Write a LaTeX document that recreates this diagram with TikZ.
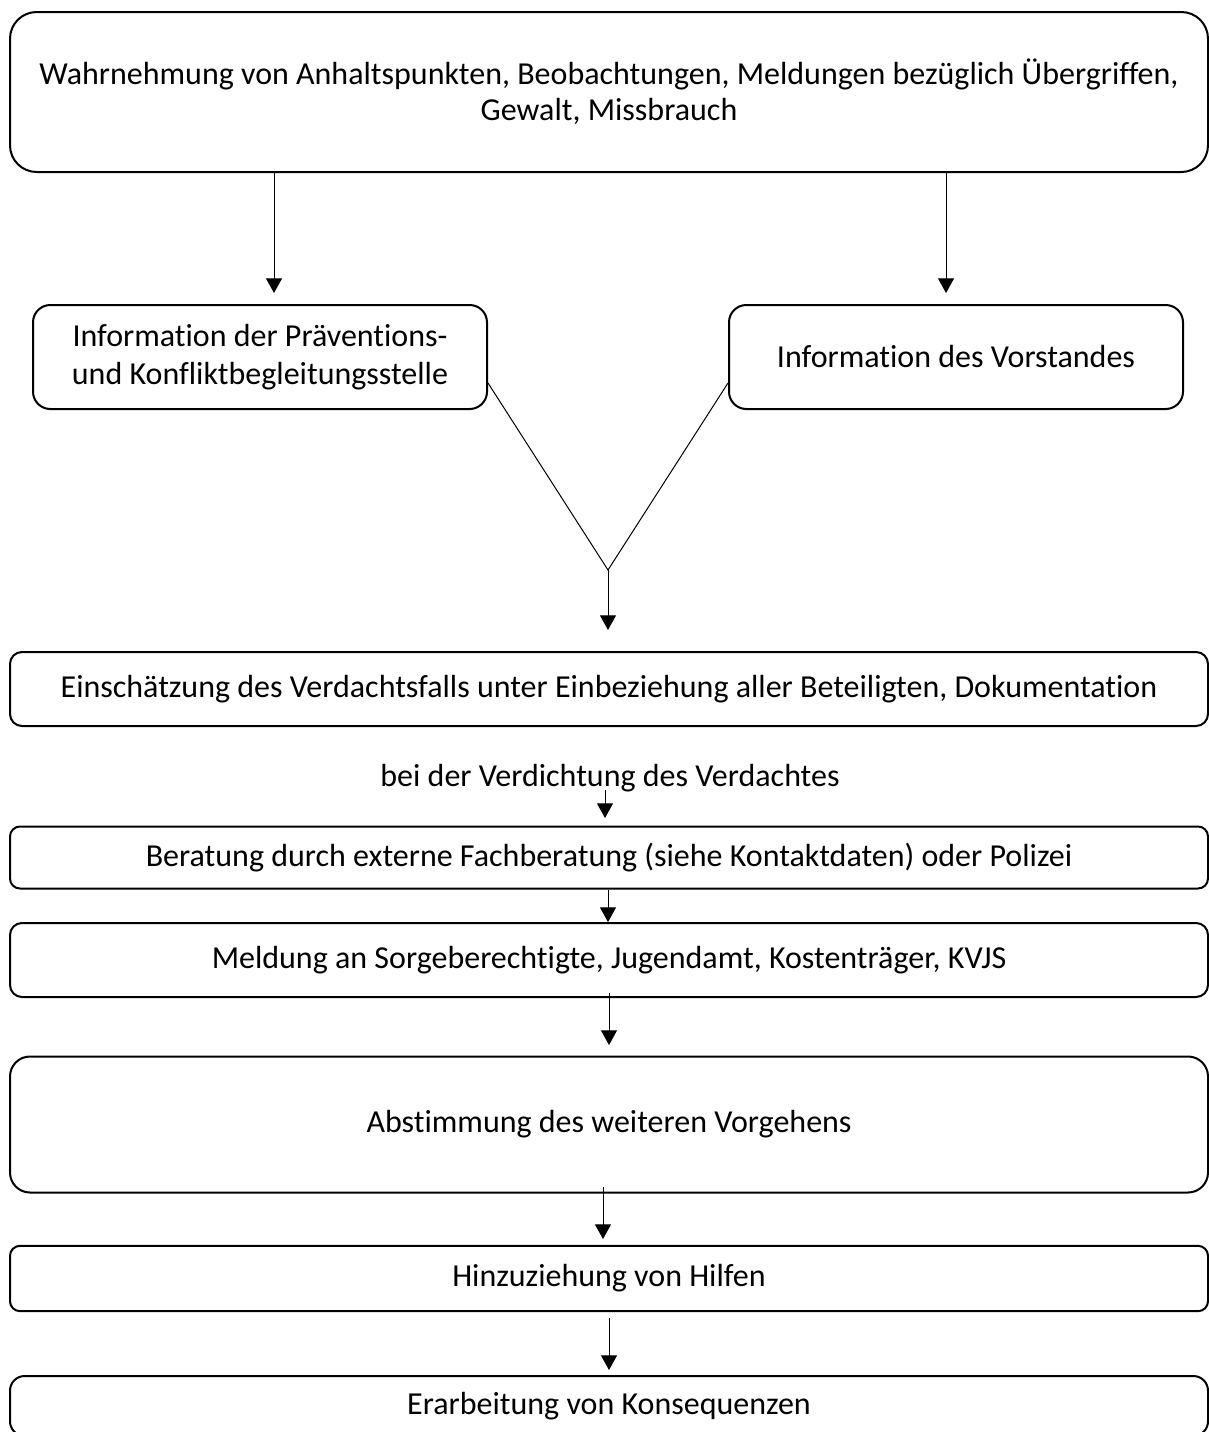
\documentclass[tikz,border=0pt]{standalone}
\usepackage{fontspec}
\setmainfont[Ligatures=NoCommon]{Carlito}
\usetikzlibrary{arrows.meta}
\begin{document}
\begin{tikzpicture}[x=0.75pt,y=-0.75pt,
  box/.style={draw, line width=1.5pt, align=center, inner sep=0pt,
    font=\fontsize{24}{27}\selectfont, minimum width=898.5pt},
  conn/.style={line width=0.75pt},
  arr/.style={conn, -{Triangle[width=12pt,length=11pt]}},
  lbl/.style={inner sep=0pt, font=\fontsize{24}{27}\selectfont}]
\useasboundingbox (0,0) rectangle (1209,1432);
\clip (0,0) rectangle (1209,1432);
% boxes
\node[box, rounded corners=20pt, minimum height=120pt] (top) at (609,92)
  {Wahrnehmung von Anhaltspunkten, Beobachtungen, Meldungen bezüglich Übergriffen,\\Gewalt, Missbrauch};
\node[box, rounded corners=13pt, minimum width=340.5pt, minimum height=78pt,
  font=\fontsize{24}{29}\selectfont] (praev) at (260,357)
  {Information der Präventions-\\und Konfliktbegleitungsstelle};
\node[box, rounded corners=13pt, minimum width=340.5pt, minimum height=78pt] (vorst) at (956,357)
  {Information des Vorstandes};
\node[box, rounded corners=9pt, minimum height=55.5pt] (einsch) at (609,689)
  {Einschätzung des Verdachtsfalls unter Einbeziehung aller Beteiligten, Dokumentation};
\node[lbl] (verd) at (610,778) {bei der Verdichtung des Verdachtes};
\node[box, rounded corners=7.5pt, minimum height=46.5pt] (berat) at (609,857.5)
  {Beratung durch externe Fachberatung (siehe Kontaktdaten) oder Polizei};
\node[box, rounded corners=9pt, minimum height=55.5pt] (meld) at (609,960)
  {Meldung an Sorgeberechtigte, Jugendamt, Kostenträger, KVJS};
\node[box, rounded corners=15pt, minimum height=102pt] (abst) at (609,1124.5)
  {Abstimmung des weiteren Vorgehens};
\node[box, rounded corners=7.5pt, minimum height=49pt] (hinz) at (609,1278.5)
  {Hinzuziehung von Hilfen};
\node[box, rounded corners=11pt, minimum height=45pt] (erarb) at (609,1406)
  {Erarbeitung von Konsequenzen};
% coordinates
\coordinate (t1) at (274,293);
\coordinate (t2) at (946,293);
\coordinate (v) at (608,570);
\coordinate (v2) at (608,630);
\coordinate (l1) at (605,790);
\coordinate (l2) at (605,818);
\coordinate (m1) at (609,993);
\coordinate (m2) at (609,1045);
\coordinate (h1) at (603,1187);
\coordinate (h2) at (603,1239);
\coordinate (e1) at (609,1318);
\coordinate (e2) at (609,1370);
% connectors
\draw[arr] (top.south -| t1) -- (t1);
\draw[arr] (top.south -| t2) -- (t2);
\draw[conn] (praev.east |- 0,383) -- (v) -- (vorst.west |- 0,383);
\draw[arr] (v) -- (v2);
\draw[arr] (l1) -- (l2);
\draw[arr] (berat.south -| 608,0) -- (meld.north -| 608,0);
\draw[arr] (m1) -- (m2);
\draw[arr] (h1) -- (h2);
\draw[arr] (e1) -- (e2);
\end{tikzpicture}
\end{document}
